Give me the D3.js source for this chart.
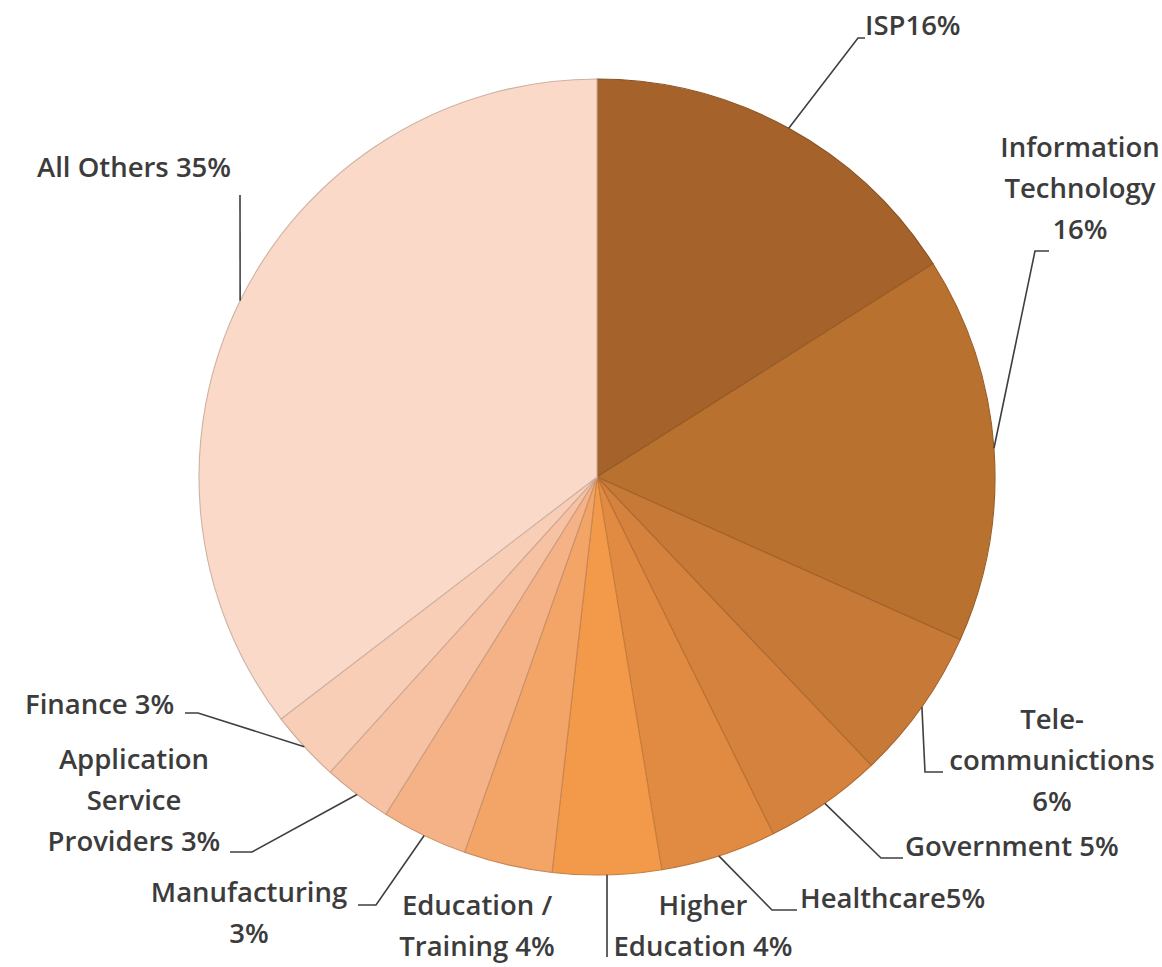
<!DOCTYPE html>
<html>
<head>
<meta charset="utf-8">
<script src="https://cdn.jsdelivr.net/npm/d3@7/dist/d3.min.js"></script>
<style>
  html, body { margin: 0; padding: 0; background: #ffffff; overflow: hidden; }
  svg { display: block; }
  text { font-family: "Open Sans", "Lato", sans-serif; fill: #3c3c3c; font-weight: 600; }
</style>
</head>
<body>
<svg id="chart" width="1162" height="967"></svg>
<script>
// ---- Data ----
const categories = [
  "ISP", "Information Technology", "Telecommunictions", "Government", "Healthcare",
  "Higher Education", "Education / Training", "Manufacturing",
  "Application Service Providers", "Finance", "All Others"
];
// slice sizes (percent)
const shares = [16.0, 15.7, 6.2, 4.8, 4.7, 4.4, 3.6, 3.5, 2.8, 2.9, 35.4];
// label text as printed on the chart (one entry per line)
const labelLines = [
  ["ISP16%"],
  ["Information", "Technology", "16%"],
  ["Tele-", "communictions", "6%"],
  ["Government 5%"],
  ["Healthcare5%"],
  ["Higher", "Education 4%"],
  ["Education /", "Training 4%"],
  ["Manufacturing", "3%"],
  ["Application", "Service", "Providers 3%"],
  ["Finance 3%"],
  ["All Others 35%"]
];
const colors = [
  "#a5632b", "#b9712f", "#c77937", "#d4823d", "#e18b42",
  "#f3994a", "#f3a467", "#f5b287", "#f7c2a3", "#f9ceb6", "#fad9c8"
];

// ---- Layout ----
const W = 1162, H = 967;
const cx = 597, cy = 477, R = 398;
const lineGap = 41;
// label placement: anchor, x, first baseline, leader elbow points (after the arc point)
const labelLayout = [
  { anchor: "start",  x: 865,  y: 35,  leader: [[858, 38], [865, 38]] },
  { anchor: "middle", x: 1080, y: 157, leader: [[1035, 251], [1049, 251]] },
  { anchor: "middle", x: 1052, y: 729, leader: [[925, 772], [943, 772]] },
  { anchor: "start",  x: 905,  y: 856, leader: [[881, 858], [903, 858]] },
  { anchor: "start",  x: 800,  y: 908, leader: [[772, 910], [797, 910]] },
  { anchor: "middle", x: 703,  y: 915, leader: [[607, 957]] },
  { anchor: "middle", x: 477,  y: 915, leader: null },
  { anchor: "middle", x: 249,  y: 902, leader: [[376, 905], [358, 905]] },
  { anchor: "middle", x: 134,  y: 769, leader: [[252, 852], [230, 852]] },
  { anchor: "start",  x: 25,   y: 714, leader: [[198, 713], [185, 713]] },
  { anchor: "start",  x: 37,   y: 177, leader: [[240, 195]] }
];

const svg = d3.select("#chart");
const g = svg.append("g").attr("transform", `translate(${cx},${cy})`);

const pie = d3.pie().value(d => d).sort(null);
const arcs = pie(shares);
const arc = d3.arc().innerRadius(0).outerRadius(R);

g.selectAll("path.slice")
  .data(arcs)
  .enter().append("path")
  .attr("class", "slice")
  .attr("d", arc)
  .attr("fill", (d, i) => colors[i])
  .attr("stroke", (d, i) => d3.color(colors[i]).darker(0.55))
  .attr("stroke-width", 1.1);

// leader lines from slice mid-angle on the rim
const lineGen = d3.line();
arcs.forEach((d, i) => {
  const L = labelLayout[i];
  if (!L.leader) return;
  const a = (d.startAngle + d.endAngle) / 2;
  const p0 = [cx + R * Math.sin(a), cy - R * Math.cos(a)];
  svg.append("path")
    .attr("d", lineGen([p0, ...L.leader]))
    .attr("fill", "none")
    .attr("stroke", "#3f3f3f")
    .attr("stroke-width", 1.6);
});

// labels
labelLines.forEach((lines, i) => {
  const L = labelLayout[i];
  const t = svg.append("text")
    .attr("text-anchor", L.anchor)
    .attr("font-size", 27.5);
  lines.forEach((ln, j) => {
    t.append("tspan").attr("x", L.x).attr("y", L.y + j * lineGap).text(ln);
  });
});
</script>
</body>
</html>
